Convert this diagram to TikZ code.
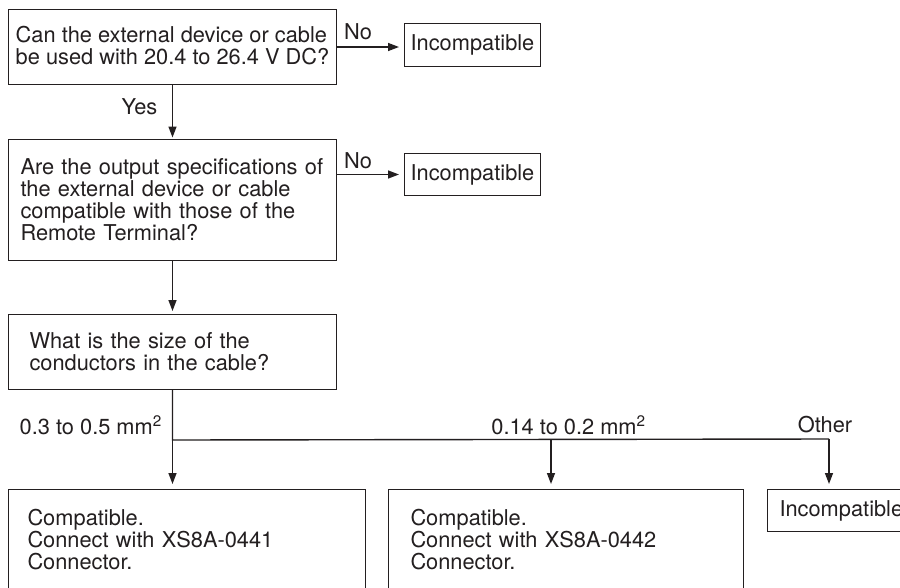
\documentclass[tikz,border=0pt]{standalone}
\usepackage{fontspec}
\setmainfont{TeX Gyre Heros}
\usepackage{xcolor}
\usepackage{tikz}
\usetikzlibrary{arrows.meta, positioning, calc}
\definecolor{myink}{RGB}{35,31,32}
\newcommand{\flowfont}{\fontsize{21.8}{22}\selectfont}
\tikzset{
  qbox/.style={rectangle, draw=myink, line width=1pt, anchor=north west,
    align=left, inner xsep=8pt, inner ysep=0pt, font=\flowfont, text=myink},
  badbox/.style={rectangle, draw=myink, line width=1pt, anchor=north west,
    inner xsep=0pt, inner ysep=0pt, font=\flowfont, text=myink},
  arrow/.style={-{Triangle[length=11pt,width=8pt]}, line width=1.4pt, color=myink},
  line/.style={line width=1.4pt, color=myink},
  tag/.style={font=\flowfont, text=myink, inner sep=0pt}
}

\begin{document}
\begin{tikzpicture}[x=1pt, y=-1pt]
  \clip (0,0) rectangle (900,587);
  \fill[white] (0,0) rectangle (900,587);

  % ── Question boxes ────────────────────────────────────────────────
  \node[qbox, inner xsep=0pt, minimum width=328pt, minimum height=75pt,
    text depth=3pt] (volt) at (8,9)
    {Can the external device or cable\\be used with 20.4 to 26.4 V DC?};
  \node[qbox, inner xsep=12pt, text width=304pt, minimum height=121pt] (spec) at (8,139)
    {Are the output specifications of\\the external device or cable\\compatible with those of the\\Remote Terminal?};
  \node[qbox, inner xsep=21pt, text width=286pt, minimum height=75pt] (size) at (8,314)
    {What is the size of the\\conductors in the cable?};

  % ── Incompatible results ──────────────────────────────────────────
  \node[badbox, minimum width=136pt, minimum height=43pt] (inc1) at (404,23) {Incompatible};
  \node[badbox, minimum width=136pt, minimum height=42pt] (inc2) at (404,153) {Incompatible};
  \node[badbox, inner xsep=12pt, minimum height=42pt] (inc3) at (767,489) {Incompatible};

  % ── Compatible results ────────────────────────────────────────────
  \node[qbox, inner xsep=19pt, text width=319pt, minimum height=100pt] (con441) at (8,489)
    {Compatible.\\Connect with XS8A-0441\\Connector.};
  \node[qbox, inner xsep=22pt, text width=311pt, minimum height=100pt] (con442) at (388,489)
    {Compatible.\\Connect with XS8A-0442\\Connector.};

  % ── Yes / No connectors ───────────────────────────────────────────
  \draw[arrow, shorten >=5pt] (volt.east) -- (volt.east -| inc1.west);
  \node[tag] (no1) at (358,32) {No};
  \draw[arrow, shorten >=1.5pt] (volt.south) -- (spec.north);
  \node[tag] (yes) at (139.5,107) {Yes};
  \draw[arrow, shorten >=5pt] (inc2.west -| spec.east) -- (inc2.west);
  \node[tag] (no2) at (358,161) {No};
  \draw[arrow, shorten >=3pt] (spec.south) -- (size.north);

  % ── Conductor size branches ───────────────────────────────────────
  \coordinate (split) at ($(size.south)+(0,50)$);
  \coordinate (tap442) at (551,439);
  \coordinate (tapother) at (829,439);
  \draw[line] (size.south) -- (split) -- (tapother);
  \draw[arrow, shorten >=5pt] (split) -- (split |- con441.north);
  \draw[arrow, shorten >=5pt] (tap442) -- (tap442 |- con442.north);
  \draw[arrow, shorten >=5pt] (tapother) -- (tapother |- inc3.north);
  \node[tag, anchor=east] (thick) at (162,425) {0.3 to 0.5 mm\textsuperscript{2}};
  \node[tag] (thin) at (568.5,425) {0.14 to 0.2 mm\textsuperscript{2}};
  \node[tag] (other) at (825,425) {Other};
\end{tikzpicture}
\end{document}
